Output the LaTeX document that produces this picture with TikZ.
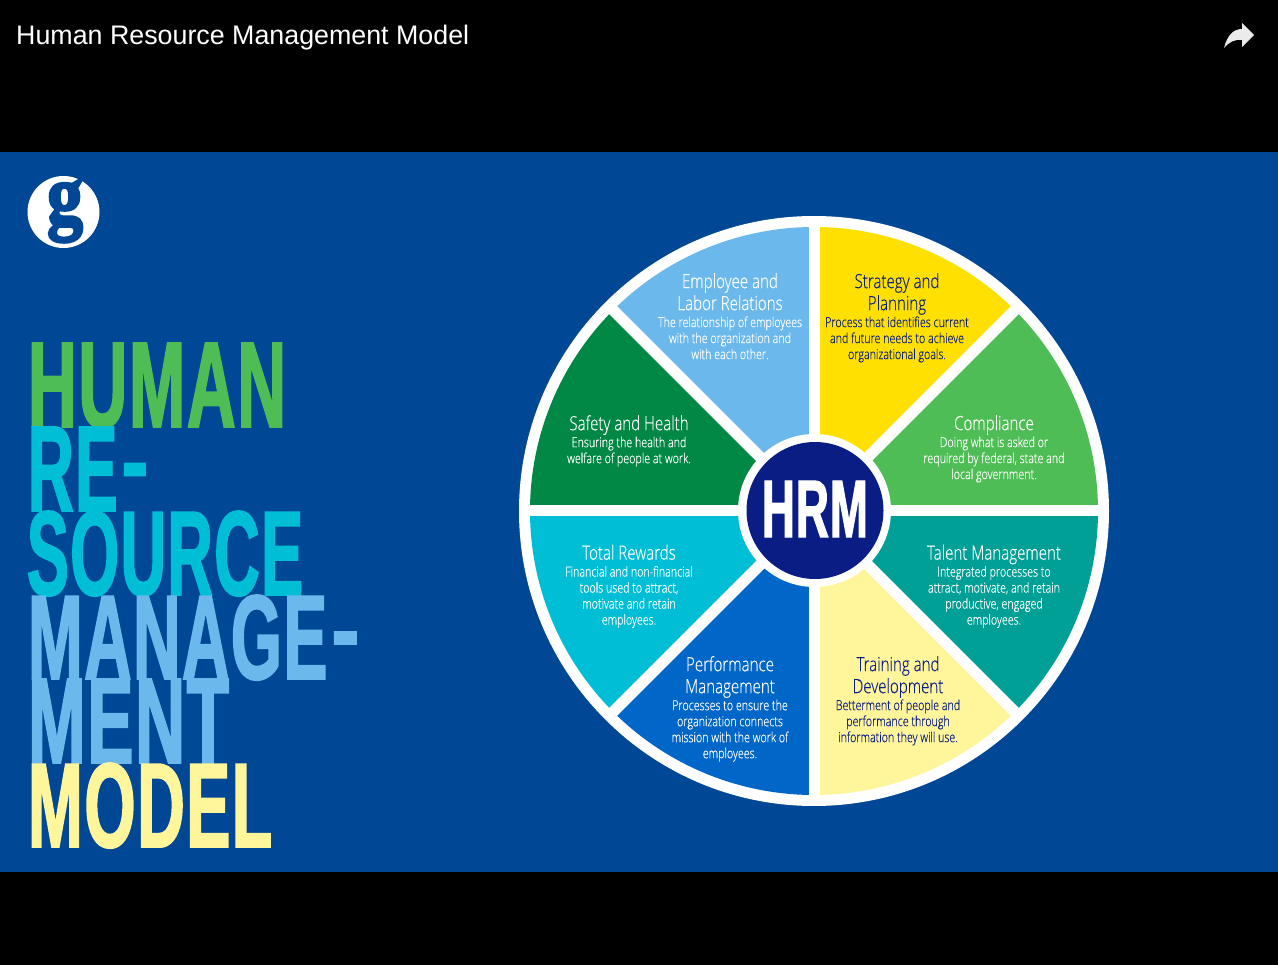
\documentclass[tikz,border=0pt]{standalone}
\usepackage{fontspec}
\usepackage{graphicx}
\setmainfont{Liberation Sans}
\newfontfamily\posterfont[FakeStretch=0.6,FakeBold=1.5,LetterSpace=1.5,Kerning=Off]{Liberation Sans Bold}
\newfontfamily\wheelfont[FakeStretch=0.77,FakeBold=0.25]{Open Sans Light}
\newfontfamily\logofont[FakeBold=3]{Liberation Serif}
\definecolor{bgblue}{HTML}{004795}
\definecolor{navy}{HTML}{0A1D85}
\definecolor{cLight}{HTML}{6BB8EC}
\definecolor{cYellow}{HTML}{FFE000}
\definecolor{cGreen}{HTML}{4FBD55}
\definecolor{cTeal}{HTML}{00A096}
\definecolor{cPale}{HTML}{FFF59A}
\definecolor{cBlue}{HTML}{0067C8}
\definecolor{cCyan}{HTML}{00BED6}
\definecolor{cDark}{HTML}{008844}
\newcommand{\hd}{\fontsize{19.6}{16}\selectfont}
\newcommand{\bd}{\fontsize{13.9}{16}\selectfont}
\newcommand{\wfont}{\wheelfont\fontsize{13.9}{16}\selectfont\setlength{\lineskiplimit}{-100pt}}
\newcommand{\posterdash}{\raisebox{.12em}{\scalebox{1.25}[0.85]{-}}}
\tikzset{
  poster/.style={anchor=north west,inner sep=0pt,outer sep=0pt,font=\posterfont},
  wheeltext/.style={anchor=north,inner sep=0pt,align=center,text=white,font=\wfont},
  wheeldark/.style={wheeltext,text=navy},
  sep/.style={white,line width=11pt}
}
\newcommand{\sector}[3]{\fill[#3] (814,511) -- ++(#1:284) arc[start angle=#1,end angle=#2,radius=284] -- cycle;}
\begin{document}
\begin{tikzpicture}[x=1pt,y=-1pt]
\useasboundingbox (0,0) rectangle (1278,965);
\fill[black] (0,0) rectangle (1278,965);
\fill[bgblue] (0,152) rectangle (1278,872);
% header
\node[anchor=base west,inner sep=0pt,text=white] (title) at (16,45)
  {\resizebox{453pt}{!}{\fontsize{27}{30}\selectfont Human Resource Management Model}};
\fill[white!92!black] (1224,48) .. controls (1227,36) and (1233,29) .. (1242,29) -- (1242,23) -- (1254,35) -- (1242,47) -- (1242,40) .. controls (1235,39) and (1229,42) .. (1224,48) -- cycle;
% logo
\node[circle,fill=white,minimum size=72pt,inner sep=0pt] (logo) at (63.5,212) {};
\node[text=bgblue,inner sep=0pt] (logog) at (65,211) {\resizebox{36pt}{44pt}{\logofont\bfseries g}};
% poster title
\node[poster,text=cGreen] (t1) at (28,343) {\resizebox{258pt}{84pt}{HUMAN}};
\node[poster,text=cCyan] (t2) at (28,427) {\resizebox{120pt}{84pt}{RE\kern.04em\posterdash}};
\node[poster,text=cCyan] (t3) at (27,511) {\resizebox{276pt}{84pt}{SOURCE}};
\node[poster,text=cLight] (t4) at (28,595) {\resizebox{331pt}{84pt}{MANAGE\kern.04em\posterdash}};
\node[poster,text=cLight] (t5) at (28,679) {\resizebox{201pt}{84pt}{MENT}};
\node[poster,text=cPale] (t6) at (28,763) {\resizebox{244pt}{84pt}{MODEL}};
% wheel
\fill[white] (814,511) circle[radius=295];
\sector{0}{-45}{cGreen}
\sector{-45}{-90}{cYellow}
\sector{-90}{-135}{cLight}
\sector{-135}{-180}{cDark}
\sector{-180}{-225}{cCyan}
\sector{-225}{-270}{cBlue}
\sector{-270}{-315}{cPale}
\sector{-315}{-360}{cTeal}
\foreach \a in {0,45,90,135}{
  \draw[sep] (814,511) ++(\a:290) -- ++(\a+180:580);
}
\node[circle,fill=white,minimum size=153pt,inner sep=0pt] (hub) at (814.5,510.5) {};
\node[circle,fill=navy,minimum size=137pt,inner sep=0pt] (hubin) at (815,510.5) {};
\node[text=white,inner sep=0pt] (hrm) at (815,509) {\resizebox{106pt}{56pt}{\posterfont HRM}};
% sector text
\node[wheeltext] (s1) at (730,273) {\hd Employee and\\[6pt]\hd Labor Relations\\[1pt]\bd The relationship of employees\\\bd with the organization and\\\bd with each other.};
\node[wheeldark] (s2) at (897,273) {\hd Strategy and\\[6pt]\hd Planning\\[1pt]\bd Process that identifies current\\\bd and future needs to achieve\\\bd organizational goals.};
\node[wheeltext] (s3) at (994,415) {\hd Compliance\\[1pt]\bd Doing what is asked or\\\bd required by federal, state and\\\bd local government.};
\node[wheeltext] (s4) at (629,415) {\hd Safety and Health\\[1pt]\bd Ensuring the health and\\\bd welfare of people at work.};
\node[wheeltext] (s5) at (629,544.5) {\hd Total Rewards\\[1pt]\bd Financial and non-financial\\\bd tools used to attract,\\\bd motivate and retain\\\bd employees.};
\node[wheeltext] (s6) at (994,544.5) {\hd Talent Management\\[1pt]\bd Integrated processes to\\\bd attract, motivate, and retain\\\bd productive, engaged\\\bd employees.};
\node[wheeltext] (s7) at (730,656) {\hd Performance\\[6pt]\hd Management\\[1pt]\bd Processes to ensure the\\\bd organization connects\\\bd mission with the work of\\\bd employees.};
\node[wheeldark] (s8) at (898,656) {\hd Training and\\[6pt]\hd Development\\[1pt]\bd Betterment of people and\\\bd performance through\\\bd information they will use.};
\end{tikzpicture}
\end{document}
